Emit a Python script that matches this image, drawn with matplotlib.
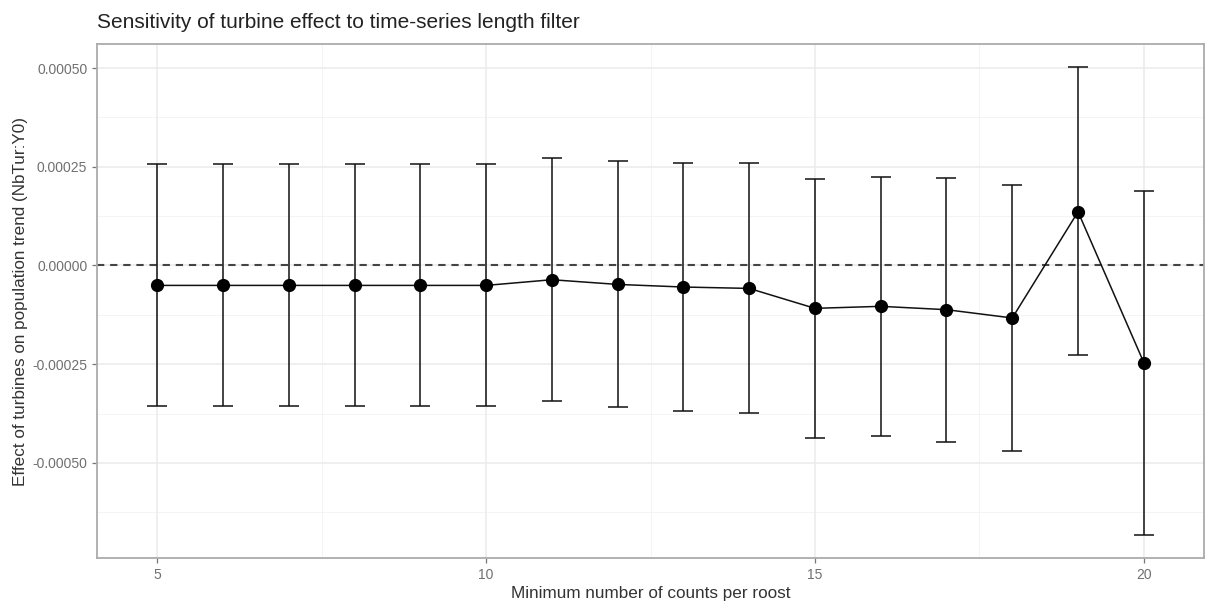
import matplotlib
matplotlib.use("Agg")
import matplotlib.pyplot as plt
import numpy as np

plt.rcParams['font.family'] = ['Liberation Sans', 'DejaVu Sans']

min_counts = [5, 6, 7, 8, 9, 10, 11, 12, 13, 14, 15, 16, 17, 18, 19, 20]
estimate = [-0.0000505, -0.0000505, -0.0000505, -0.0000505, -0.0000505, -0.0000505,
            -0.0000361, -0.000048, -0.0000546, -0.0000581, -0.0001086, -0.0001035,
            -0.000112, -0.000133, 0.000136, -0.000246]
upper = [0.000256, 0.000256, 0.000256, 0.000256, 0.000256, 0.000256,
         0.000272, 0.000264, 0.000259, 0.000259, 0.00022, 0.000225,
         0.000221, 0.000203, 0.000502, 0.000188]
lower = [-0.000356, -0.000356, -0.000356, -0.000356, -0.000356, -0.000356,
         -0.000344, -0.000359, -0.000369, -0.000374, -0.000436, -0.000433,
         -0.000446, -0.000469, -0.000228, -0.000682]
y_ticks = [-0.0005, -0.00025, 0.0, 0.00025, 0.0005]
y_tick_labels = ["-0.00050", "-0.00025", "0.00000", "0.00025", "0.00050"]
x_ticks = [5, 10, 15, 20]

W, H = 1206, 603
fig = plt.figure(figsize=(W / 100, H / 100), dpi=100)
left, right, top, bottom = 97, 1204, 44, 558
ax = fig.add_axes([left / W, 1 - bottom / H, (right - left) / W, (bottom - top) / H])

x = np.array(min_counts)
est = np.array(estimate)
up = np.array(upper)
lo = np.array(lower)

ax.set_xlim(4.085, 20.915)
ax.set_ylim(-0.000741, 0.000561)

# grid
for v in [7.5, 12.5, 17.5]:
    ax.axvline(v, color='#F2F2F2', lw=0.6, zorder=0)
for v in [-0.000625, -0.000375, -0.000125, 0.000125, 0.000375]:
    ax.axhline(v, color='#F2F2F2', lw=0.6, zorder=0)
for v in x_ticks:
    ax.axvline(v, color='#EBEBEB', lw=1.1, zorder=0)
for v in y_ticks:
    ax.axhline(v, color='#EBEBEB', lw=1.1, zorder=0)

ax.axhline(0, color='#444444', lw=1.5, ls=(0, (3.5, 2.8)), zorder=1)

ax.errorbar(x, est, yerr=[est - lo, up - est], fmt='none', ecolor='#111111',
            elinewidth=1.1, capsize=7.2, capthick=1.1, zorder=2)
ax.plot(x, est, color='#111111', lw=1.1, zorder=3)
ax.plot(x, est, 'o', color='black', markersize=8.5, zorder=4)

ax.set_xticks(x_ticks)
ax.set_xticklabels([str(t) for t in x_ticks])
ax.set_yticks(y_ticks)
ax.set_yticklabels(y_tick_labels)
ax.tick_params(axis='both', colors='#777777', labelcolor='#707070', labelsize=10,
               length=3.5, width=0.9)
for s in ax.spines.values():
    s.set_color('#ABABAB')
    s.set_linewidth(1.3)

ax.set_xlabel("Minimum number of counts per roost", fontsize=12.3, color='#333333', labelpad=3)
ax.set_ylabel("Effect of turbines on population trend (NbTur:Y0)", fontsize=12.3,
              color='#333333', labelpad=3)
fig.text(left / W, 1 - 22 / H, "Sensitivity of turbine effect to time-series length filter",
         fontsize=15, ha='left', va='center', color='#222222')

fig.savefig("out.png", dpi=100)
